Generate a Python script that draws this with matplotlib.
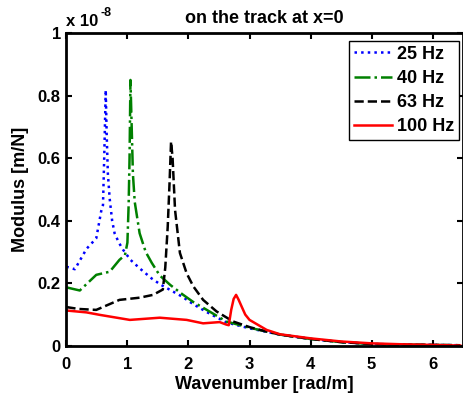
import numpy as np
import matplotlib
matplotlib.use("Agg")
import matplotlib.pyplot as plt
from matplotlib.ticker import FuncFormatter

# modulus values in units of 1e-8 m/N
k25 = [0, 0.14, 0.33, 0.49, 0.57, 0.60, 0.62, 0.645, 0.66, 0.68, 0.71, 0.75, 0.79, 0.86, 0.93, 1.05, 1.2, 1.4, 1.55,
       1.9, 2.08, 2.3, 2.62, 3.0, 3.5, 4.0, 4.5, 5.0, 5.5, 6.0, 6.45]
m25 = [0.253, 0.245, 0.31, 0.344, 0.43, 0.45, 0.6, 0.818, 0.68, 0.55, 0.47, 0.40, 0.36, 0.33, 0.307, 0.275, 0.248, 0.215, 0.195,
       0.157, 0.133, 0.108, 0.075, 0.056, 0.036, 0.022, 0.012, 0.006, 0.004, 0.003, 0.002]

k40 = [0, 0.22, 0.49, 0.71, 0.87, 0.96, 1.0, 1.02, 1.035, 1.05, 1.07, 1.09, 1.12, 1.2, 1.3, 1.4, 1.53, 1.7, 1.9,
       2.08, 2.3, 2.62, 3.0, 3.5, 4.0, 4.5, 5.0, 5.5, 6.0, 6.45]
m40 = [0.187, 0.177, 0.227, 0.237, 0.275, 0.29, 0.33, 0.45, 0.6, 0.85, 0.7, 0.55, 0.46, 0.36, 0.30, 0.265, 0.225, 0.195, 0.165,
       0.14, 0.115, 0.078, 0.058, 0.036, 0.022, 0.012, 0.006, 0.004, 0.003, 0.002]

k63 = [0, 0.2, 0.49, 0.87, 1.2, 1.42, 1.58, 1.62, 1.66, 1.69, 1.715, 1.74, 1.78, 1.86, 1.97, 2.08, 2.24, 2.46, 2.73,
       3.0, 3.17, 3.5, 4.0, 4.5, 5.0, 5.5, 6.0, 6.45]
m63 = [0.124, 0.118, 0.115, 0.147, 0.154, 0.163, 0.18, 0.25, 0.38, 0.52, 0.653, 0.60, 0.435, 0.297, 0.232, 0.19, 0.147, 0.11, 0.078,
       0.06, 0.051, 0.036, 0.022, 0.012, 0.006, 0.004, 0.003, 0.002]

k100 = [0, 0.33, 0.55, 1.04, 1.53, 1.97, 2.24, 2.51, 2.62, 2.66, 2.7, 2.74, 2.78, 2.82, 2.87, 2.93, 3.0, 3.28, 3.5,
        4.0, 4.5, 5.0, 5.5, 6.0, 6.45]
m100 = [0.113, 0.107, 0.099, 0.083, 0.090, 0.083, 0.072, 0.076, 0.068, 0.066, 0.115, 0.15, 0.163, 0.148, 0.126, 0.1, 0.083, 0.051, 0.037,
        0.024, 0.014, 0.008, 0.005, 0.003, 0.001]

labels = ["25 Hz", "40 Hz", "63 Hz", "100 Hz"]

plt.rcParams['font.family'] = ['Liberation Sans', 'DejaVu Sans']
plt.rcParams['font.weight'] = 'bold'

fig = plt.figure(figsize=(4.64, 3.98), dpi=100)
ax = fig.add_axes([0.143, 0.131, 0.854, 0.786])

ax.plot(k25, m25, ':', color=(0, 0, 1), lw=1.8, label=labels[0])
ax.plot(k40, m40, '-.', color=(0, 0.5, 0), lw=1.8, label=labels[1])
ax.plot(k63, m63, '--', color='k', lw=1.8, label=labels[2])
ax.plot(k100, m100, '-', color='r', lw=1.8, label=labels[3])

ax.set_xlim(0, 6.49)
ax.set_ylim(0, 1)
ax.set_xticks(range(7))
ax.set_yticks([0, 0.2, 0.4, 0.6, 0.8, 1])
ax.yaxis.set_major_formatter(FuncFormatter(lambda v, p: '%g' % v))
ax.tick_params(direction='in', top=True, right=True, length=4, width=1.5, labelsize=12)
ax.tick_params(axis='x', pad=8)
ax.tick_params(axis='y', pad=4)
for s in ax.spines.values():
    s.set_linewidth(2)

ax.set_title("on the track at x=0", fontsize=13, fontweight='bold', pad=7)
ax.set_xlabel("Wavenumber [rad/m]", fontsize=13, fontweight='bold', labelpad=3)
ax.set_ylabel("Modulus [m/N]", fontsize=13, fontweight='bold', labelpad=6)
# MATLAB style exponent label
ax.text(0.0, 1.012, "x 10", transform=ax.transAxes, fontsize=12, fontweight='bold', va='bottom')
ax.text(0.086, 1.045, "-8", transform=ax.transAxes, fontsize=9, fontweight='bold', va='bottom')

leg = ax.legend(loc='upper right', bbox_to_anchor=(0.991, 0.974), borderaxespad=0,
                fancybox=False, edgecolor='k', framealpha=1,
                borderpad=0.25, handlelength=2.1, handletextpad=0.3, labelspacing=0.4,
                prop={'weight': 'bold', 'size': 13})
leg.get_frame().set_linewidth(1)

fig.savefig("out.png", dpi=100)
